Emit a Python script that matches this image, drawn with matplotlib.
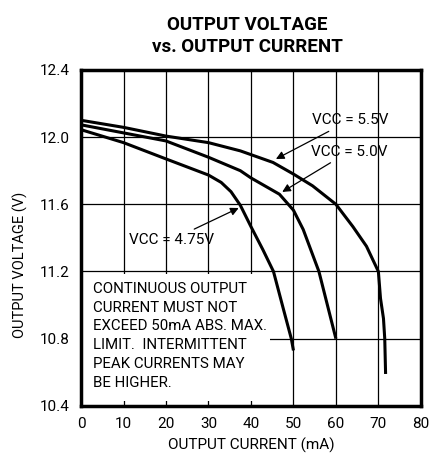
import matplotlib
matplotlib.use("Agg")
import matplotlib.pyplot as plt
from matplotlib.patches import Rectangle

# curve data (mA, V)
i_55 = [0, 10, 20, 30, 37.5, 45.2, 50, 54.5, 60, 64, 67.2, 70, 70.5, 71.2, 71.5, 71.7]
v_55 = [12.10, 12.058, 12.006, 11.967, 11.918, 11.849, 11.78, 11.71, 11.60,
        11.467, 11.35, 11.20, 11.04, 10.92, 10.80, 10.59]

i_50 = [0, 10, 20, 30, 37.5, 40, 46.7, 50, 52.3, 56, 58, 60]
v_50 = [12.073, 12.025, 11.977, 11.88, 11.80, 11.757, 11.66, 11.565, 11.45,
        11.20, 11.00, 10.80]

i_475 = [0, 10, 20, 30, 33, 35.3, 37.5, 40, 42.8, 45.3, 47.6, 49.5, 50]
v_475 = [12.044, 11.967, 11.87, 11.774, 11.73, 11.675, 11.594, 11.467, 11.33,
         11.20, 10.98, 10.80, 10.73]

x_ticks = [0, 10, 20, 30, 40, 50, 60, 70, 80]
y_ticks = [10.4, 10.8, 11.2, 11.6, 12.0, 12.4]

note = ("CONTINUOUS OUTPUT\nCURRENT MUST NOT\nEXCEED 50mA ABS. MAX.\n"
        "LIMIT.  INTERMITTENT\nPEAK CURRENTS MAY\nBE HIGHER.")

plt.rcParams["font.family"] = ["Roboto", "DejaVu Sans"]

fig = plt.figure(figsize=(4.29, 4.66), dpi=100)
ax = fig.add_axes([0.189, 0.129, 0.792, 0.721])

ax.set_xlim(0, 80)
ax.set_ylim(10.4, 12.4)
ax.set_xticks(x_ticks)
ax.set_yticks(y_ticks)
ax.set_xticklabels([str(t) for t in x_ticks])
ax.set_yticklabels(["%.1f" % t for t in y_ticks])
ax.tick_params(length=0, labelsize=11, pad=8)
ax.set_axisbelow(True)
ax.grid(True, color="black", linewidth=0.9)
for s in ax.spines.values():
    s.set_linewidth(2.5)

# white panel behind the note hides the grid
ax.add_patch(Rectangle((0.1, 10.43), 44.4, 0.755, facecolor="white",
                       edgecolor="none", zorder=1))
ax.text(2.7, 11.14, note, fontsize=10.8, va="top", ha="left",
        linespacing=1.45, zorder=3)

for xs, ys in [(i_55, v_55), (i_50, v_50), (i_475, v_475)]:
    ax.plot(xs, ys, color="black", linewidth=2.2, zorder=2,
            solid_capstyle="butt", solid_joinstyle="round")

arrow = dict(arrowstyle="-|>", color="black", lw=0.9, mutation_scale=12)
ax.annotate("VCC = 5.5V", xy=(45.3, 11.862), xytext=(63.3, 12.10),
            ha="center", va="center", fontsize=11, arrowprops=arrow)
ax.annotate("VCC = 5.0V", xy=(46.8, 11.665), xytext=(63.1, 11.914),
            ha="center", va="center", fontsize=11, arrowprops=arrow)
ax.annotate("VCC = 4.75V", xy=(37.7, 11.585), xytext=(21.2, 11.387),
            ha="center", va="center", fontsize=11, arrowprops=arrow)

fig.text(0.576, 0.922, "OUTPUT VOLTAGE\nvs. OUTPUT CURRENT", ha="center",
         va="center", fontsize=13.5, fontweight="bold", linespacing=1.3)
fig.text(0.585, 0.045, "OUTPUT CURRENT (mA)", ha="center", va="center",
         fontsize=11)
fig.text(0.047, 0.431, "OUTPUT VOLTAGE (V)", ha="center", va="center",
         rotation=90, fontsize=10.5)

fig.savefig("out.png", dpi=100)
